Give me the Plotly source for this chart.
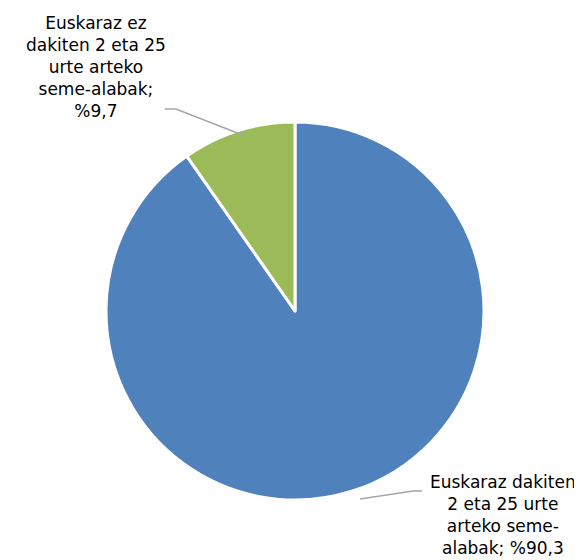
import plotly.graph_objects as go

W, H = 582, 560
labels = ["Euskaraz dakiten 2 eta 25 urte arteko seme-alabak",
          "Euskaraz ez dakiten 2 eta 25 urte arteko seme-alabak"]
values = [90.3, 9.7]
colors = ["#4f81bd", "#9bbb59"]
label_texts = ["Euskaraz dakiten<br>2 eta 25 urte<br>arteko seme-<br>alabak; %90,3",
               "Euskaraz ez<br>dakiten 2 eta 25<br>urte arteko<br>seme-alabak;<br>%9,7"]

cx, cy, r = 287, 303, 189

fig = go.Figure(go.Pie(
    labels=labels, values=values, sort=False, direction="clockwise", rotation=0,
    marker=dict(colors=colors, line=dict(color="white", width=3)),
    textinfo="none", hoverinfo="label+percent", showlegend=False,
    domain=dict(x=[(cx - r) / W, (cx + r) / W], y=[1 - (cy + r) / H, 1 - (cy - r) / H]),
))

def px(x, y):
    return x / W, 1 - y / H

# leader lines
for pts in [[(157, 101), (168, 101), (237, 128)], [(352, 491), (405, 483), (414, 483)]]:
    path = "M " + " L ".join(f"{px(x,y)[0]},{px(x,y)[1]}" for x, y in pts)
    fig.add_shape(type="path", path=path, xref="paper", yref="paper",
                  line=dict(color="#a6a6a6", width=1.5))

font = dict(family="DejaVu Sans, Verdana, sans-serif", size=17, color="#000000")
for text, (x, y) in zip(label_texts, [(495, 507), (88, 59)]):
    ax, ay = px(x, y)
    fig.add_annotation(text=text, x=ax, y=ay, xref="paper", yref="paper",
                       showarrow=False, align="center", font=font,
                       xanchor="center", yanchor="middle")

fig.update_layout(width=W, height=H, margin=dict(l=0, r=0, t=0, b=0),
                  paper_bgcolor="white", plot_bgcolor="white")
fig.write_html("out.html")
